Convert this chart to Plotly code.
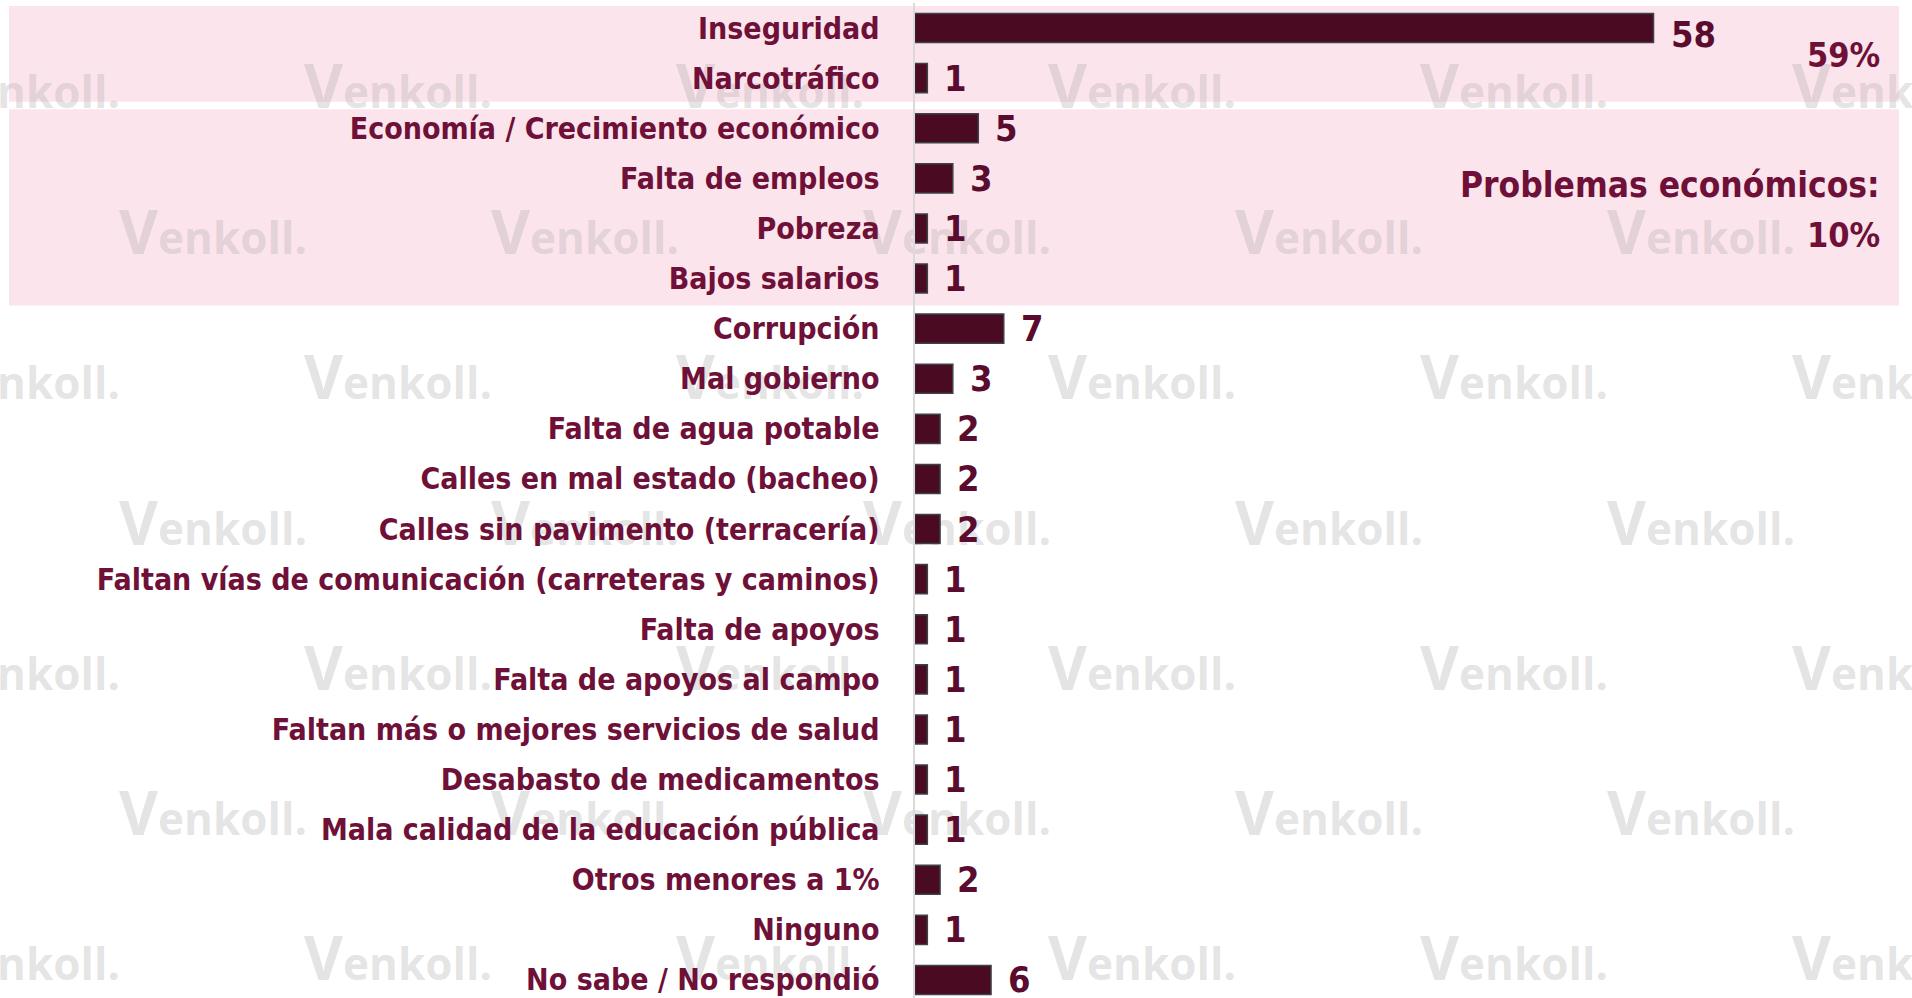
import plotly.graph_objects as go

categories = [
    "Inseguridad", "Narcotráfico", "Economía / Crecimiento económico",
    "Falta de empleos", "Pobreza", "Bajos salarios", "Corrupción",
    "Mal gobierno", "Falta de agua potable", "Calles en mal estado (bacheo)",
    "Calles sin pavimento (terracería)",
    "Faltan vías de comunicación (carreteras y caminos)", "Falta de apoyos",
    "Falta de apoyos al campo", "Faltan más o mejores servicios de salud",
    "Desabasto de medicamentos", "Mala calidad de la educación pública",
    "Otros menores a 1%", "Ninguno", "No sabe / No respondió",
]
values = [58, 1, 5, 3, 1, 1, 7, 3, 2, 2, 2, 1, 1, 1, 1, 1, 1, 2, 1, 6]

group_labels = ["59%", "Problemas económicos:", "10%"]

W, H = 1912, 998
FONT = "DejaVu Sans Condensed, Liberation Sans Narrow, sans-serif"
LABEL_COLOR = "#6e1038"
VALUE_COLOR = "#5a0c2e"
BAR_COLOR = "#4a0a22"
PINK = "#fce4ec"

fig = go.Figure()

# watermark layer (drawn on the first, full-page subplot, under the bars)
wm_x, wm_y = [], []
row_y = [97, 243, 388, 534, 679, 824, 969]
for i, yy in enumerate(row_y):
    starts = [26, 398, 770, 1142, 1514, 1886] if i % 2 == 0 else [213, 585, 957, 1329, 1701]
    for xx in starts:
        wm_x.append(xx)
        wm_y.append(yy)
fig.add_trace(go.Scatter(
    x=wm_x, y=wm_y, mode="text",
    text=["<span style='font-size:60px'>V</span>enkoll."] * len(wm_x),
    textfont=dict(family="Open Sans", size=44, color="rgba(165,165,165,0.30)", weight="bold"),
    textposition="middle center", xaxis="x", yaxis="y", hoverinfo="skip", showlegend=False,
))

fig.add_trace(go.Bar(
    x=values, y=categories, orientation="h",
    marker=dict(color=BAR_COLOR, line=dict(color="#3b424a", width=1.5)),
    xaxis="x2", yaxis="y2", hoverinfo="skip", showlegend=False,
))

x0_px = 914.6
px_per_unit = 12.74
row_h = 50.1
top_px = 3

ann = []
for i, (c, v) in enumerate(zip(categories, values)):
    ann.append(dict(
        x=v, y=i, xref="x2", yref="y2", text=str(v), showarrow=False,
        xanchor="left", yanchor="middle", xshift=15, yshift=(-6 if i == 0 else 0),
        font=dict(family=FONT, size=36, color=VALUE_COLOR, weight="bold"),
    ))

ann_pos = [(55, 34), (185, 35), (235, 34)]
for t, (py, fs) in zip(group_labels, ann_pos):
    ann.append(dict(
        x=1882 / W, y=1 - py / H, xref="paper", yref="paper", text=t,
        showarrow=False, xanchor="right", yanchor="middle",
        font=dict(family=FONT, size=fs, color=LABEL_COLOR, weight="bold"),
    ))

shapes = [
    dict(type="rect", xref="paper", yref="y2", x0=9 / W, x1=1899 / W,
         y0=-0.44, y1=1.47, fillcolor=PINK, line=dict(width=0), layer="below"),
    dict(type="rect", xref="paper", yref="y2", x0=9 / W, x1=1899 / W,
         y0=1.62, y1=5.54, fillcolor=PINK, line=dict(width=0), layer="below"),
]

plot_h = H - top_px
n_vis = plot_h / row_h

fig.update_layout(
    width=W, height=H,
    margin=dict(l=0, r=0, t=0, b=0),
    paper_bgcolor="white", plot_bgcolor="rgba(0,0,0,0)",
    bargap=0.42,
    hovermode=False,
    xaxis=dict(domain=[0, 1], range=[0, W], visible=False, fixedrange=True),
    yaxis=dict(domain=[0, 1], range=[H, 0], visible=False, fixedrange=True),
    xaxis2=dict(domain=[x0_px / W, 1], range=[0, (W - x0_px) / px_per_unit],
                anchor="y2", visible=False, fixedrange=True),
    yaxis2=dict(domain=[0, 1 - top_px / H], anchor="x2",
                type="category", categoryorder="array", categoryarray=categories,
                range=[-0.5 + n_vis, -0.5], fixedrange=True,
                showline=True, linecolor="#d9d9d9", linewidth=2,
                showgrid=False, zeroline=False,
                ticks="outside", ticklen=27, tickcolor="rgba(0,0,0,0)",
                tickfont=dict(family=FONT, size=30, color=LABEL_COLOR, weight="bold")),
    annotations=ann,
    shapes=shapes,
)

fig.write_html("out.html", config={"displayModeBar": False},
               post_script="document.body.style.margin='0';document.body.style.overflow='hidden';")
